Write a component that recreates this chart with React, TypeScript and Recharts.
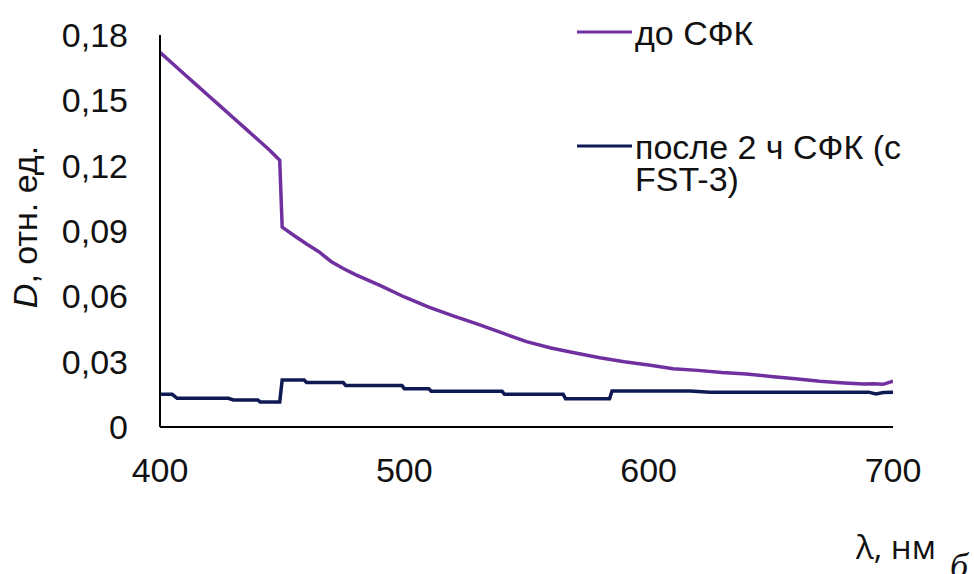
import { LineChart, Line, XAxis, YAxis, Legend, Label } from "recharts";

const FONT = '"Liberation Sans", Arial, sans-serif';

// до СФК
const beforeWavelength = [
  400, 405, 410, 415, 420, 425, 430, 435, 440, 445, 449, 450, 455, 460, 465, 470, 475, 480, 490, 500,
  510, 520, 530, 540, 550, 560, 570, 580, 590, 600, 610, 620, 630, 640, 650, 660, 670, 680, 688, 692,
  696, 700,
];
const beforeD = [
  0.172, 0.167, 0.162, 0.157, 0.152, 0.147, 0.142, 0.137, 0.132, 0.127, 0.1225, 0.0918, 0.0878, 0.084,
  0.0805, 0.076, 0.0728, 0.07, 0.065, 0.0597, 0.055, 0.051, 0.0472, 0.0432, 0.0392, 0.0363, 0.034,
  0.0318, 0.03, 0.0285, 0.0268, 0.026, 0.025, 0.0243, 0.0232, 0.0222, 0.021, 0.0202, 0.0197, 0.0199,
  0.0196, 0.021,
];

// после 2 ч СФК (с FST-3)
const afterWavelength = [
  400, 405, 407, 428, 430, 440, 441, 449, 450, 459, 460, 475, 476, 499, 500, 510, 511, 540, 541, 565,
  566, 584, 585, 617, 625, 690, 693, 696, 700,
];
const afterD = [
  0.015, 0.015, 0.0132, 0.0132, 0.0124, 0.0124, 0.0115, 0.0115, 0.0216, 0.0216, 0.0204, 0.0204, 0.0191,
  0.0191, 0.0176, 0.0176, 0.0164, 0.0164, 0.015, 0.015, 0.013, 0.013, 0.0165, 0.0165, 0.016, 0.016,
  0.0152, 0.0158, 0.016,
];

const xTicks = [400, 500, 600, 700];
const yTicks = [0, 0.03, 0.06, 0.09, 0.12, 0.15, 0.18];

const beforeData = beforeWavelength.map((x, i) => ({ x, d: beforeD[i] }));
const afterData = afterWavelength.map((x, i) => ({ x, d: afterD[i] }));

const fmtY = (v: number) => (v === 0 ? "0" : v.toFixed(2).replace(".", ","));

function LegendBox({ payload }: any) {
  return (
    <div style={{ position: "relative", width: 390, height: 200, fontFamily: FONT, fontSize: 34, color: "#111" }}>
      {(payload || []).map((e: any, i: number) => (
        <div key={i} style={{ position: "absolute", left: 0, top: i * 114, display: "flex", alignItems: "flex-start" }}>
          <svg width={58} height={32} style={{ flex: "none" }}>
            <line x1={0} x2={55} y1={15} y2={15} stroke={e.color} strokeWidth={3} />
          </svg>
          <span style={{ width: 300, lineHeight: "32px" }}>{e.value}</span>
        </div>
      ))}
    </div>
  );
}

export default function App() {
  return (
    <div style={{ position: "absolute", left: 0, top: 0, background: "#fff" }}>
      <LineChart width={974} height={574} margin={{ top: 35, right: 81, bottom: 107, left: 0 }}>
        <XAxis
          type="number"
          dataKey="x"
          domain={[400, 700]}
          ticks={xTicks}
          allowDataOverflow
          tickLine={false}
          tickSize={0}
          tickMargin={31}
          height={40}
          axisLine={{ stroke: "#000", strokeWidth: 2 }}
          tick={{ fontSize: 34, fill: "#111", fontFamily: FONT }}
        >
          <Label
            content={() => (
              <g>
                <text x={856} y={559} fontSize={33} fontFamily='"Open Sans", sans-serif' fill="#111">
                  λ, нм
                </text>
                <text x={950} y={578} fontSize={36} fontStyle="italic" fontFamily='"Liberation Serif", serif' fill="#111">
                  б
                </text>
              </g>
            )}
          />
        </XAxis>
        <YAxis
          type="number"
          domain={[0, 0.18]}
          ticks={yTicks}
          width={160}
          tickLine={false}
          tickSize={0}
          tickMargin={32}
          tickFormatter={fmtY}
          axisLine={{ stroke: "#000", strokeWidth: 2 }}
          tick={{ fontSize: 34, fill: "#111", fontFamily: FONT }}
        >
          <Label
            content={() => (
              <text
                x={37}
                y={227}
                transform="rotate(-90, 37, 227)"
                textAnchor="middle"
                fontSize={34}
                fontFamily={FONT}
                fill="#111"
              >
                <tspan fontStyle="italic">D</tspan>, отн. ед.
              </text>
            )}
          />
        </YAxis>
        <Legend
          layout="vertical"
          align="center"
          verticalAlign="middle"
          content={<LegendBox />}
          wrapperStyle={{ left: 577, top: 17, width: 390 }}
        />
        <Line
          data={beforeData}
          dataKey="d"
          name="до СФК"
          type="linear"
          stroke="#7030A0"
          strokeWidth={3.5}
          dot={false}
          isAnimationActive={false}
        />
        <Line
          data={afterData}
          dataKey="d"
          name="после 2 ч СФК (с FST-3)"
          type="linear"
          stroke="#0F1A55"
          strokeWidth={3.5}
          dot={false}
          isAnimationActive={false}
        />
      </LineChart>
    </div>
  );
}
